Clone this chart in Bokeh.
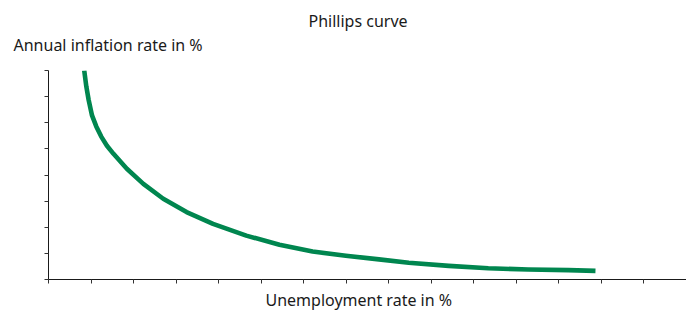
from bokeh.plotting import figure
from bokeh.models import Range1d, FixedTicker, Title
from bokeh.embed import file_html
from bokeh.resources import INLINE

# Data (unemployment %, inflation %)
unemployment = [0.84, 0.889, 0.943, 1.023, 1.123, 1.240, 1.374, 1.528, 1.842, 2.230,
                2.698, 3.246, 3.868, 4.650, 5.43, 6.21, 6.99, 7.77, 8.47, 9.41,
                10.34, 11.28, 12.22, 12.86]
inflation = [8.0, 7.39, 6.88, 6.28, 5.86, 5.47, 5.12, 4.81, 4.24, 3.66,
             3.09, 2.58, 2.13, 1.68, 1.33, 1.07, 0.91, 0.77, 0.64, 0.52,
             0.43, 0.38, 0.36, 0.33]
x_ticks = list(range(0, 16))
y_ticks = list(range(0, 9))

title_text = "Phillips curve"
y_label_text = "Annual inflation rate in %"
x_label_text = "Unemployment rate in %"

FONT = "Noto Sans"

p = figure(width=686, height=315, output_backend="svg", toolbar_location=None,
           x_range=Range1d(0, 15), y_range=Range1d(0, 8),
           min_border_left=48, min_border_right=0, min_border_top=70, min_border_bottom=36)
p.outline_line_color = None
p.xgrid.visible = False
p.ygrid.visible = False

for ax, ticks in ((p.xaxis[0], x_ticks), (p.yaxis[0], y_ticks)):
    ax.ticker = FixedTicker(ticks=ticks)
    ax.major_label_overrides = {t: "" for t in ticks}
    ax.major_label_text_font_size = "1px"
    ax.major_label_standoff = 0
    ax.major_tick_in = 0
    ax.major_tick_out = 4
    ax.minor_tick_in = 0
    ax.minor_tick_out = 0
    ax.axis_line_color = "#1a1a1a"
    ax.major_tick_line_color = "#333333"
    ax.axis_line_width = 1

p.line(unemployment, inflation, line_color="#00864F", line_width=4.6,
       line_cap="butt", line_join="round")

p.title.text = title_text
p.title.align = "left"
p.title.offset = 260
p.title.standoff = -20
p.title.vertical_align = "bottom"
p.title.text_font = FONT
p.title.text_font_size = "16px"
p.title.text_font_style = "normal"
p.title.text_color = "#1a1a1a"

p.add_layout(Title(text=y_label_text, align="left", offset=-35, standoff=24.6,
                   vertical_align="top", text_font=FONT,
                   text_font_size="16px", text_font_style="normal", text_color="#1a1a1a"), "above")
p.add_layout(Title(text=x_label_text, align="left", offset=217, standoff=6.8,
                   vertical_align="bottom", text_font=FONT,
                   text_font_size="16px", text_font_style="normal", text_color="#1a1a1a"), "below")

open("out.html", "w").write(file_html(p, INLINE))
